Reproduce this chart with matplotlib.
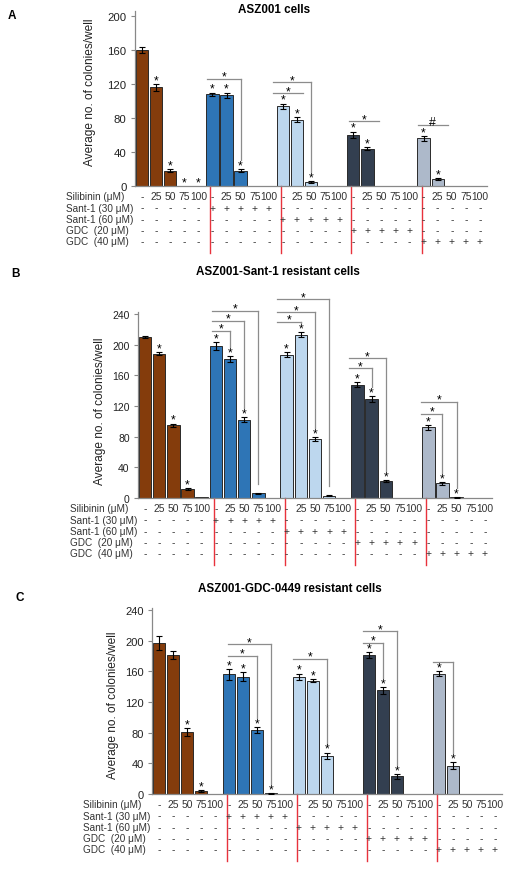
import matplotlib
matplotlib.use('Agg')
import matplotlib.pyplot as plt
import numpy as np

plt.rcParams['font.family'] = ['Liberation Sans', 'DejaVu Sans']

W, H = 512, 870

group_colors = ['#843C0C', '#2E75B6', '#BDD7EE', '#333F50', '#ADB9CA']
row_names = ['Silibinin (μM)', 'Sant-1 (30 μM)', 'Sant-1 (60 μM)', 'GDC  (20 μM)', 'GDC  (40 μM)']
sil_labels = ['-', '25', '50', '75', '100']

# panel A - ASZ001 cells
a_title = 'ASZ001 cells'
a_vals = [160, 116, 18, 0, 0, 108, 107, 18, 0, 0, 94, 78, 5, 0, 0, 60, 44, 0, 0, 0, 56, 8, 0, 0, 0]
a_err = [3, 4, 2, 0, 0, 2, 3, 2, 0, 0, 3, 3, 1, 0, 0, 4, 2, 0, 0, 0, 3, 1, 0, 0, 0]
a_stars = [1, 2, 3, 4, 5, 6, 7, 10, 11, 12, 15, 16, 20, 21]
a_brackets = [(4.6, 126, 7, True, '*'), (9.3, 109, 11.4, False, '*'), (9.3, 122, 12, True, '*'),
              (14.7, 76, 16.8, False, '*'), (19.6, 72, 21.7, False, '#')]

# panel B - Sant-1 resistant
b_title = 'ASZ001-Sant-1 resistant cells'
b_vals = [210, 188, 95, 12, 1, 198, 181, 102, 6, 0, 187, 213, 77, 3, 0, 148, 129, 22, 0, 0, 92, 19, 1, 0, 0]
b_err = [1, 2, 2, 1, 0, 5, 4, 3, 1, 0, 3, 3, 3, 1, 0, 3, 4, 1, 0, 0, 3, 2, 0.5, 0, 0]
b_stars = [1, 2, 3, 5, 6, 7, 10, 11, 12, 15, 16, 17, 20, 21, 22]
b_brackets = [(4.7, 218, 6, True, '*'), (4.7, 231, 7, True, '*'), (4.7, 244, 8, True, '*'),
              (9.3, 230, 11, True, '*'), (9.3, 242, 12, True, '*'), (9.3, 259, 13, True, '*'),
              (14.4, 169, 16, True, '*'), (14.4, 182, 17, True, '*'),
              (19.5, 110, 21, True, '*'), (19.5, 125, 22, True, '*')]

# panel C - GDC-0449 resistant
c_title = 'ASZ001-GDC-0449 resistant cells'
c_vals = [197, 181, 81, 4, 0, 156, 153, 83, 1, 0, 153, 148, 50, 0.5, 0, 181, 135, 23, 0, 0, 157, 37, 0, 0, 0]
c_err = [9, 5, 5, 1, 0, 7, 6, 4, 0.5, 0, 4, 2, 4, 0, 0, 4, 4, 3, 0, 0, 3, 5, 0, 0, 0]
c_stars = [2, 3, 5, 6, 7, 8, 10, 11, 12, 15, 16, 17, 20, 21]
c_brackets = [(4.9, 180, 7, True, '*'), (4.9, 195, 8, True, '*'),
              (9.6, 176, 12, True, '*'),
              (14.6, 197, 16, True, '*'), (14.6, 212, 17, True, '*'),
              (19.6, 172, 21, True, '')]

fig = plt.figure(figsize=(W / 100, H / 100), dpi=100)


def panel(vals, err, stars, brackets, title, letter, geo):
    (left, right, y0, ytop, ymax, ytickmax, tick_fs, lab_x, lab_y, row_x,
     title_y, letter_xy) = geo
    ax = fig.add_axes([left / W, 1 - y0 / H, (right - left) / W, (y0 - ytop) / H])
    h_px = y0 - ytop
    scale = h_px / ymax  # px per unit
    slot = (right - left) / 25

    x = np.arange(25)
    cols = [group_colors[i // 5] for i in x]
    ax.bar(x, vals, width=0.88, color=cols, edgecolor='#2a2a2a', linewidth=0.7, zorder=2)
    m = np.array(err) > 0
    ax.errorbar(x[m], np.array(vals)[m], yerr=np.array(err)[m], fmt='none', ecolor='black',
                elinewidth=0.8, capsize=2.2, capthick=0.8, zorder=3)

    for s in stars:
        ax.annotate('*', (s, vals[s] + err[s]), xytext=(0, 0.5), textcoords='offset points',
                    ha='center', va='baseline', fontsize=8.8, annotation_clip=False)

    for xl, lev, xr, drop, lab in brackets:
        ax.plot([xl, xr], [lev, lev], color='#8c8c8c', lw=0.9, clip_on=False, zorder=1)
        if drop:
            end = vals[xr] + err[xr] + 9 / scale
            if end < lev:
                ax.plot([xr, xr], [lev, end], color='#8c8c8c', lw=0.9, clip_on=False, zorder=1)
        if lab:
            ax.annotate(lab, ((xl + xr) / 2, lev), xytext=(0, -0.5), textcoords='offset points',
                        ha='center', va='baseline', fontsize=8.8, annotation_clip=False)

    ax.set_xlim(-0.5, 24.5)
    ax.set_ylim(0, ymax)
    ax.set_yticks(np.arange(0, ytickmax + 1, 40))
    ax.tick_params(axis='y', length=3, width=0.8, color='#888888', labelsize=tick_fs, pad=3,
                   labelcolor='#222222')
    ax.set_xticks([])
    for sp in ['top', 'right']:
        ax.spines[sp].set_visible(False)
    for sp in ['left', 'bottom']:
        ax.spines[sp].set_color('#888888')
        ax.spines[sp].set_linewidth(0.9)

    tr = ax.get_xaxis_transform()
    offs = [10.5, 21.6, 32.7, 43.8, 54.9]
    rx = (row_x - left) / slot - 0.5
    for r, name in enumerate(row_names):
        yy = -offs[r] / h_px
        ax.text(rx, yy, name, transform=tr, ha='left', va='center', fontsize=7.2,
                color='#333333', clip_on=False)
        for i in range(25):
            if r == 0:
                t = sil_labels[i % 5]
            else:
                t = '+' if i // 5 == r else '-'
            ax.text(i, yy, t, transform=tr, ha='center', va='center', fontsize=7.4,
                    color='#333333', clip_on=False)

    for k in range(1, 5):
        xv = 5 * k - 0.15
        ax.plot([xv, xv], [0, -67 / h_px], transform=tr, color='#e8323c', lw=1.0, clip_on=False)

    fig.text(lab_x / W, 1 - lab_y / H, 'Average no. of colonies/well', rotation=90,
             ha='center', va='center', fontsize=8.6, color='#222222')
    fig.text(((left + right) / 2 - 37) / W, 1 - title_y / H, title, ha='center', va='center',
             fontsize=8.4, fontweight='bold')
    fig.text(letter_xy[0] / W, 1 - letter_xy[1] / H, letter, ha='left', va='center',
             fontsize=8.5, fontweight='bold')
    return ax


panel(a_vals, a_err, a_stars, a_brackets, a_title, 'A',
      (135, 487, 187, 12, 205.9, 200, 8.2, 90, 92, 66, 10, (8, 16)))
panel(b_vals, b_err, b_stars, b_brackets, b_title, 'B',
      (138, 492, 499, 313, 242.6, 240, 7.5, 100, 411, 70, 272, (11, 274)))
panel(c_vals, c_err, c_stars, c_brackets, c_title, 'C',
      (152, 502, 795, 609, 242.6, 240, 8.0, 113, 705, 83, 589, (16, 598)))

fig.savefig('out.png', dpi=100, facecolor='white')
